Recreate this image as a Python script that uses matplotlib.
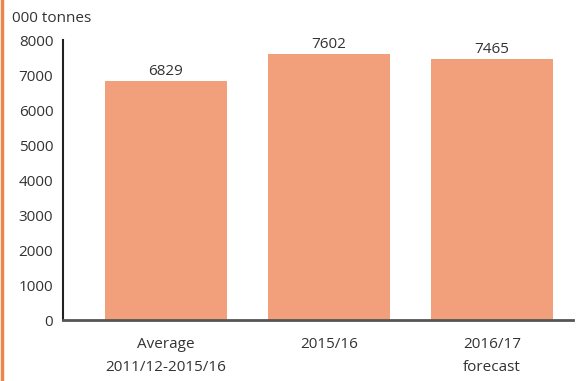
import matplotlib
matplotlib.use("Agg")
import matplotlib.pyplot as plt
from matplotlib.lines import Line2D

plt.rcParams["font.family"] = ["Open Sans", "DejaVu Sans"]

categories = ["Average\n2011/12-2015/16", "2015/16", "2016/17\nforecast"]
values = [6829, 7602, 7465]
yticks = [0, 1000, 2000, 3000, 4000, 5000, 6000, 7000, 8000]

bar_color = "#F2A07B"
text_color = "#333333"
fs = 11

fig = plt.figure(figsize=(5.78, 3.81), dpi=100)
ax = fig.add_axes([0.109, 0.160, 0.882, 0.735])

x = list(range(len(values)))
bars = ax.bar(x, values, width=0.75, color=bar_color, zorder=2)
for xi, v in zip(x, values):
    ax.text(xi, v + 50, str(v), ha="center", va="bottom", fontsize=fs, color=text_color)

ax.set_xlim(-0.632, 2.497)
ax.set_ylim(0, 8000)
ax.set_yticks(yticks)
ax.set_yticklabels([str(t) for t in yticks], fontsize=fs, color=text_color)
ax.set_xticks(x)
ax.set_xticklabels(categories, fontsize=fs, color=text_color, linespacing=1.75)
ax.tick_params(axis="y", length=0, pad=7)
ax.tick_params(axis="x", length=0, pad=12)

for side in ["top", "right"]:
    ax.spines[side].set_visible(False)
ax.spines["left"].set_color("#222222")
ax.spines["left"].set_linewidth(1.5)
ax.spines["bottom"].set_color("#555555")
ax.spines["bottom"].set_linewidth(2)

fig.text(0.02, 0.952, "000 tonnes", fontsize=fs, color=text_color, va="center", ha="left")

# orange bar down the left edge
fig.add_artist(Line2D([0.003, 0.003], [0, 1], transform=fig.transFigure, color="#EB8650", linewidth=2.5))

fig.savefig("out.png", dpi=100)
